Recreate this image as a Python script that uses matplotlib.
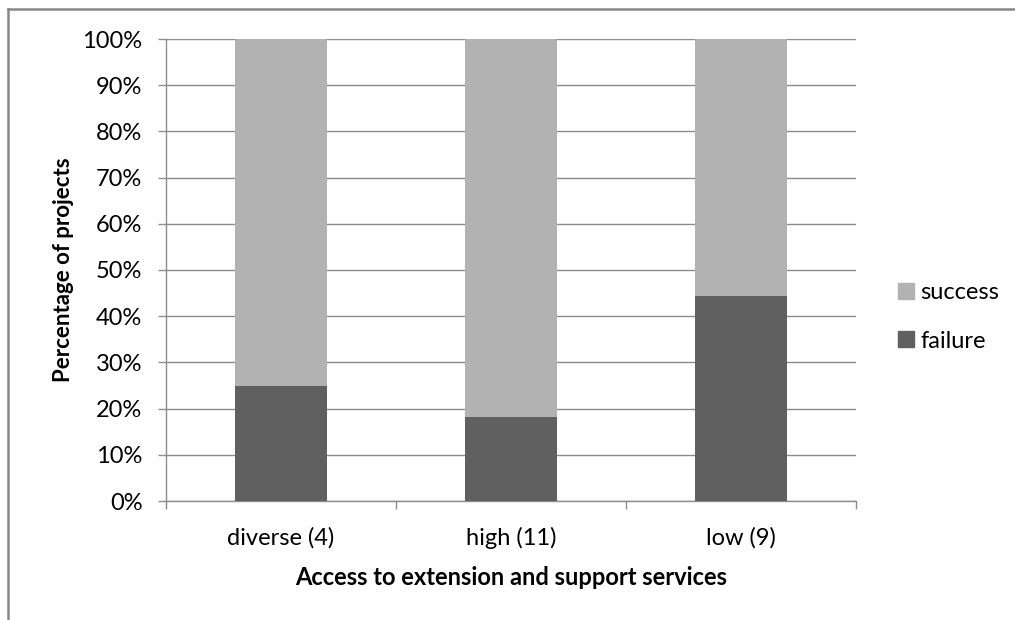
import matplotlib
matplotlib.use("Agg")
import matplotlib.pyplot as plt
from matplotlib.lines import Line2D
from matplotlib.patches import Patch
from matplotlib.ticker import FuncFormatter, FixedLocator

categories = ["diverse (4)", "high (11)", "low (9)"]
failure = [25.0, 18.18, 44.44]
success = [75.0, 81.82, 55.56]
y_ticks = [0, 10, 20, 30, 40, 50, 60, 70, 80, 90, 100]

C_SUCCESS = "#b2b2b2"
C_FAILURE = "#606060"
C_AXIS = "#8c8c8c"

plt.rcParams["font.family"] = ["Lato", "DejaVu Sans"]

W, H = 1015, 620
fig = plt.figure(figsize=(W / 100, H / 100), dpi=100)
ax = fig.add_axes([166 / W, 1 - 501 / H, (856 - 166) / W, (501 - 39) / H])

x = list(range(len(categories)))
ax.bar(x, failure, width=0.4, color=C_FAILURE, zorder=3, label="failure")
ax.bar(x, success, width=0.4, bottom=failure, color=C_SUCCESS, zorder=3, label="success")

ax.set_xlim(-0.5, len(categories) - 0.5)
ax.set_ylim(0, 100)
ax.set_yticks(y_ticks)
ax.yaxis.set_major_formatter(FuncFormatter(lambda v, _: f"{v:.0f}%"))
ax.yaxis.grid(True, color=C_AXIS, linewidth=1.0, zorder=0)
ax.set_axisbelow(True)

ax.set_xticks(x)
ax.set_xticklabels(categories)
ax.xaxis.set_minor_locator(FixedLocator([i - 0.5 for i in range(len(categories) + 1)]))
ax.tick_params(axis="x", which="major", length=0, pad=19, labelsize=17, colors="#000000")
ax.tick_params(axis="x", which="minor", length=6, width=1.0, color=C_AXIS, direction="out")
ax.tick_params(axis="y", length=6, width=1.0, color=C_AXIS, labelsize=17, pad=11)

for s in ("top", "right"):
    ax.spines[s].set_visible(False)
for s in ("left", "bottom"):
    ax.spines[s].set_color(C_AXIS)
    ax.spines[s].set_linewidth(1.0)

ax.set_xlabel("Access to extension and support services", fontsize=17,
              fontweight="bold", labelpad=12)
ax.set_ylabel("Percentage of projects", fontsize=16, fontweight="bold", labelpad=6)

handles = [Patch(color=C_SUCCESS, label="success"), Patch(color=C_FAILURE, label="failure")]
fig.legend(handles=handles, loc="center left", bbox_to_anchor=(877 / W, 1 - 317 / H),
           frameon=False, fontsize=17, handlelength=0.65, handleheight=0.65,
           handletextpad=0.3, labelspacing=1.15)

# chart-area border along top and left edges
fig.add_artist(Line2D([8 / W, 1.0], [1 - 9 / H, 1 - 9 / H], transform=fig.transFigure,
                      color="#888888", linewidth=1.8))
fig.add_artist(Line2D([8 / W, 8 / W], [0.0, 1 - 9 / H], transform=fig.transFigure,
                      color="#888888", linewidth=1.8))

fig.savefig("out.png", dpi=100, facecolor="white")
